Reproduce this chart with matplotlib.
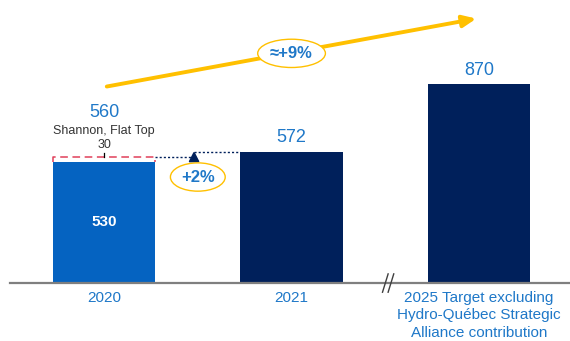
import matplotlib
matplotlib.use("Agg")
import matplotlib.pyplot as plt
from matplotlib.patches import Polygon

plt.rcParams["font.family"] = ["Liberation Sans", "DejaVu Sans"]

categories = ["2020", "2021",
              "2025 Target excluding\nHydro-Québec Strategic\nAlliance contribution"]
values = [530, 572, 870]
bar_colors = ["#0563c1", "#00205b", "#00205b"]
flat_top_extra = 30
growth_2021 = "+2%"
growth_target = "≈+9%"

BLUE_TXT = "#1f78c8"
YELLOW = "#ffc000"

fig = plt.figure(figsize=(5.7, 3.41), dpi=100)
ax = fig.add_axes([0, 0, 1, 1])
ax.set_xlim(-0.555, 2.485)
ax.set_ylim(-253, 1236)
ax.axis("off")

x = list(range(len(values)))
w = 0.545
ax.bar(x, values, width=w, color=bar_colors, zorder=2)

# baseline
ax.plot([-0.5, 2.485], [0, 0], color="#7f7f7f", lw=1.6, zorder=3, clip_on=False)
# axis break
for dx in (-0.035, -0.005):
    ax.plot([1.52 + dx, 1.55 + dx], [-40, 40], color="#404040", lw=1, zorder=4)

# value labels
total_2020 = values[0] + flat_top_extra
ax.text(0, 745, str(total_2020), ha="center", va="center", color=BLUE_TXT, fontsize=13)
ax.text(0, 665, "Shannon, Flat Top", ha="center", va="center", color="#333333", fontsize=9)
ax.text(0, 605, str(flat_top_extra), ha="center", va="center", color="#333333", fontsize=9)
ax.text(0, 265, str(values[0]), ha="center", va="center", color="white",
        fontsize=11, fontweight="bold")
ax.text(1, values[1] + 65, str(values[1]), ha="center", va="center", color=BLUE_TXT, fontsize=13)
ax.text(2, values[2] + 60, str(values[2]), ha="center", va="center", color=BLUE_TXT, fontsize=13)

# red dashed bracket for Flat Top
yb = values[0] + 20
ax.plot([-w / 2, -w / 2, w / 2, w / 2], [values[0], yb, yb, values[0]],
        color="#e0405a", lw=1.1, ls=(0, (5, 3)), zorder=3)
ax.plot([0, 0], [yb, yb + 18], color="black", lw=0.9, zorder=3)

# dotted connector to 2021
ax.plot([w / 2, 0.48], [yb, yb], color="#00205b", lw=1, ls=(0, (1.5, 1.5)), zorder=3)
ax.plot([0.48, 1 - w / 2], [values[1], values[1]], color="#00205b", lw=1,
        ls=(0, (1.5, 1.5)), zorder=3)
ax.add_patch(Polygon([[0.455, 530], [0.505, 530], [0.48, 570]], closed=True,
                     color="#00205b", zorder=4))
ax.text(0.5, 463, growth_2021, ha="center", va="center", color=BLUE_TXT, fontsize=12,
        fontweight="bold", zorder=5,
        bbox=dict(boxstyle="ellipse,pad=0.15", fc="white", ec=YELLOW, lw=1))

# yellow trend arrow
ax.annotate("", xy=(2.0, 1157), xytext=(0.0, 856),
            arrowprops=dict(arrowstyle="-|>,head_length=0.8,head_width=0.35",
                            color=YELLOW, lw=2.8), zorder=3)
ax.text(1.0, 1003, growth_target, ha="center", va="center", color=BLUE_TXT, fontsize=12,
        fontweight="bold", zorder=5,
        bbox=dict(boxstyle="ellipse,pad=0.15", fc="white", ec=YELLOW, lw=1))

# category labels
for xi, lab in zip(x, categories):
    ax.text(xi, -35, lab, ha="center", va="top", color=BLUE_TXT, fontsize=11,
            linespacing=1.3)

fig.savefig("out.png", dpi=100)
